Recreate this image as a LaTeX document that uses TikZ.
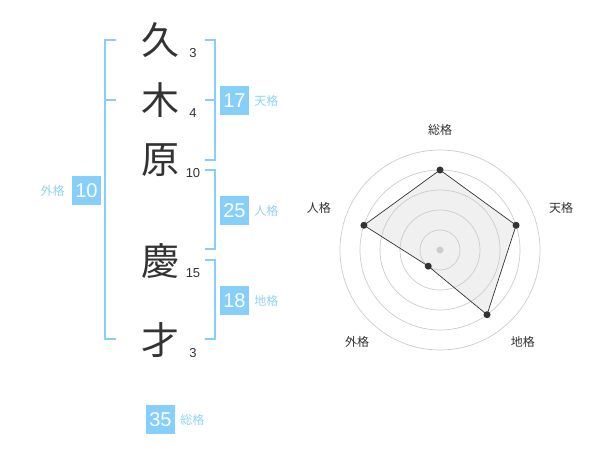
\documentclass[tikz,border=0pt]{standalone}
\usepackage{fontspec}
\setmainfont{Liberation Sans}
\newfontfamily\jpfont{Noto Sans CJK JP}
\usetikzlibrary{positioning}
\definecolor{kakublue}{HTML}{85CFFA}
\definecolor{labelblue}{HTML}{8ED3F8}
\definecolor{inkgray}{HTML}{333333}
\tikzset{
  kanji/.style = {font=\jpfont\fontsize{38}{38}\selectfont, text=inkgray, inner sep=0pt},
  strokes/.style = {font=\fontsize{13}{13}\selectfont, text=inkgray, inner sep=0pt},
  kakubox/.style = {fill=kakublue, text=white, minimum size=29pt, inner sep=0pt, font=\fontsize{20}{20}\selectfont},
  kakuname/.style = {font=\jpfont\fontsize{12}{12}\selectfont, text=labelblue, inner sep=0pt},
  bracket/.style = {draw=kakublue, line width=2pt},
  ring/.style = {draw=black!20, line width=0.7pt},
  axisname/.style = {font=\jpfont\fontsize{12}{12}\selectfont, text=inkgray, inner sep=0pt},
  dot/.style = {circle, fill=inkgray, inner sep=0pt, minimum size=7pt}
}

\begin{document}
\begin{tikzpicture}[x=1pt, y=-1pt]
\useasboundingbox (0,0) rectangle (600,470);

% Draw the name
\node [kanji] (ku)   at (160,40)  {久};
\node [kanji] (ki)   at (160,100) {木};
\node [kanji] (hara) at (160,160) {原};
\node [kanji] (kei)  at (160,261) {慶};
\node [kanji] (sai)  at (160,340) {才};

\node [strokes] (s-ku)   at (193,53)  {3};
\node [strokes] (s-ki)   at (193,113) {4};
\node [strokes] (s-hara) at (193,173) {10};
\node [strokes] (s-kei)  at (193,273) {15};
\node [strokes] (s-sai)  at (193,353) {3};

% Draw the brackets
\draw [bracket] (116,40) -- (105,40) -- (105,339) -- (116,339);
\draw [bracket] (105,100) -- (116,100);
\draw [bracket] (205,40) -- (215,40) -- (215,160) -- (205,160);
\draw [bracket] (205,100) -- (215,100);
\draw [bracket] (205,170) -- (215,170) -- (215,249) -- (205,249);
\draw [bracket] (205,260) -- (215,260) -- (215,339) -- (205,339);

% Draw the counts
\node [kakubox] (ten) at (234.5,100.5) {17};
\node [kakuname, right=5pt of ten] (ten-name) {天格};
\node [kakubox] (jin) at (234.5,210.5) {25};
\node [kakuname, right=5pt of jin] (jin-name) {人格};
\node [kakubox] (chi) at (234.5,300.5) {18};
\node [kakuname, right=5pt of chi] (chi-name) {地格};
\node [kakubox] (gai) at (86.5,190.5) {10};
\node [kakuname, left=7pt of gai] (gai-name) {外格};
\node [kakubox] (so) at (160.5,419.5) {35};
\node [kakuname, right=5pt of so] (so-name) {総格};

% Draw the radar
\begin{scope}[shift={(440,250)}, y=1pt]
  \coordinate (r-so)  at (90:80);
  \coordinate (r-ten) at (18:80);
  \coordinate (r-chi) at (-54:80);
  \coordinate (r-gai) at (-126:20);
  \coordinate (r-jin) at (162:80);
  \fill [black!6] (r-so) -- (r-ten) -- (r-chi) -- (r-gai) -- (r-jin) -- cycle;
  \foreach \r in {20,40,...,100}
    \draw [ring] (0,0) circle [radius=\r pt];
  \draw [inkgray, line width=0.7pt] (r-so) -- (r-ten) -- (r-chi) -- (r-gai) -- (r-jin) -- cycle;
  \foreach \p in {so,ten,chi,gai,jin}
    \node [dot] (d-\p) at (r-\p) {};
  \node [dot, fill=black!20] (center) at (0,0) {};
  \node [axisname] (a-so)  at (90:120)   {総格};
  \node [axisname] (a-ten) at (19:128)   {天格};
  \node [axisname] (a-jin) at (161:128)  {人格};
  \node [axisname] (a-chi) at (-48:124)  {地格};
  \node [axisname] (a-gai) at (-132:124) {外格};
\end{scope}

\end{tikzpicture}
\end{document}
